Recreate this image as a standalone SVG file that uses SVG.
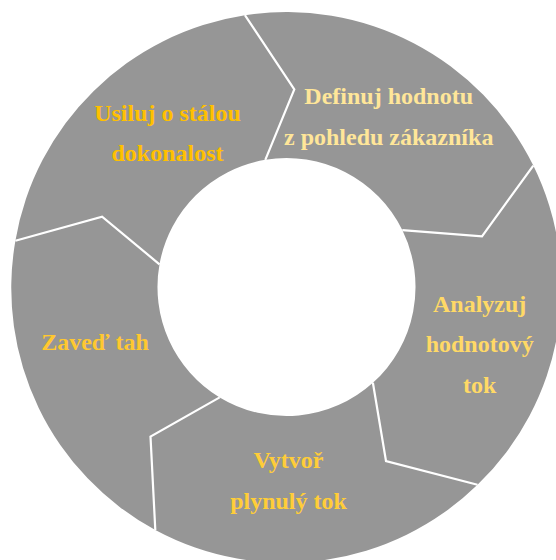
<svg xmlns="http://www.w3.org/2000/svg" width="556" height="560" viewBox="0 0 556 560">
<style>
.seg{fill:#969696;stroke:none}
.sep{fill:none;stroke:#ffffff;stroke-width:2.2;stroke-linejoin:miter}
.lbl{font-family:"Liberation Serif","Times New Roman",serif;font-weight:bold;font-size:24px;text-anchor:middle}
</style>
<rect width="556" height="560" fill="#ffffff"/>
<g id="node-usiluj">
<path class="seg" d="M15.4,240.7 A275,275 0 0 1 244.9,15.2 L294.3,89.3 L265.3,159.8 A129,129 0 0 0 159.5,264.3 L102.1,216.7 Z"/>
<text class="lbl" fill="#FFC000" x="167.5" y="120.7">Usiluj o stálou</text>
<text class="lbl" fill="#FFC000" x="167.5" y="161">dokonalost</text>
</g>
<g id="node-definuj">
<path class="seg" d="M244.9,15.2 A275,275 0 0 1 533.3,165.6 L482,236.3 L402.3,230.1 A129,129 0 0 0 265.3,159.8 L294.3,89.3 Z"/>
<text class="lbl" fill="#FFE699" x="388.7" y="104">Definuj hodnotu</text>
<text class="lbl" fill="#FFE699" x="388.7" y="145">z pohledu zákazníka</text>
</g>
<g id="node-analyzuj">
<path class="seg" d="M533.3,165.6 A275,275 0 0 1 477.5,484.8 L386,461 L372.9,382.8 A129,129 0 0 0 402.3,230.1 L482,236.3 Z"/>
<text class="lbl" fill="#FFD966" x="479.7" y="311.7">Analyzuj</text>
<text class="lbl" fill="#FFD966" x="479.7" y="352.3">hodnotový</text>
<text class="lbl" fill="#FFD966" x="479.7" y="393">tok</text>
</g>
<g id="node-vytvor">
<path class="seg" d="M477.5,484.8 A275,275 0 0 1 155.3,530 L150.5,436.5 L219.7,397.4 A129,129 0 0 0 372.9,382.8 L386,461 Z"/>
<text class="lbl" fill="#FFCD38" x="288.5" y="468">Vytvoř</text>
<text class="lbl" fill="#FFCD38" x="288.5" y="509">plynulý tok</text>
</g>
<g id="node-zaved">
<path class="seg" d="M155.3,530 A275,275 0 0 1 15.4,240.7 L102.1,216.7 L159.5,264.3 A129,129 0 0 0 219.7,397.4 L150.5,436.5 Z"/>
<text class="lbl" fill="#FFC830" x="95" y="350">Zaveď tah</text>
</g>
<g id="connectors">
<polyline class="sep" points="244.9,15.2 294.3,89.3 265.3,159.8"/>
<polyline class="sep" points="533.3,165.6 482,236.3 402.3,230.1"/>
<polyline class="sep" points="477.5,484.8 386,461 372.9,382.8"/>
<polyline class="sep" points="155.3,530 150.5,436.5 219.7,397.4"/>
<polyline class="sep" points="15.4,240.7 102.1,216.7 159.5,264.3"/>
</g>
</svg>
